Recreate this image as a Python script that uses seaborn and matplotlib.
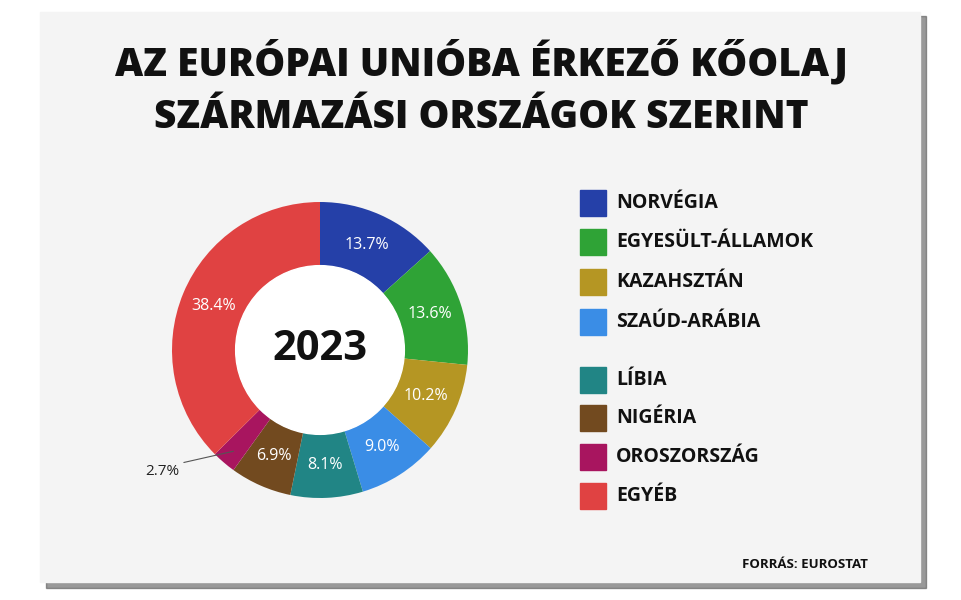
import matplotlib
matplotlib.use("Agg")
import matplotlib.pyplot as plt
import seaborn as sns
import numpy as np
from matplotlib.patches import Rectangle, Circle

sns.set_theme(style="white")
plt.rcParams['font.family'] = ['Open Sans', 'DejaVu Sans']

countries = ['NORVÉGIA', 'EGYESÜLT-ÁLLAMOK', 'KAZAHSZTÁN', 'SZAÚD-ARÁBIA',
             'LÍBIA', 'NIGÉRIA', 'OROSZORSZÁG', 'EGYÉB']
shares = [13.7, 13.6, 10.2, 9.0, 8.1, 6.9, 2.7, 38.4]
colors = ['#2540a8', '#2fa336', '#b59623', '#3a8de6',
          '#218585', '#724a1f', '#a8155f', '#e04242']

W, H = 962, 600
fig = plt.figure(figsize=(W / 100, H / 100), dpi=100)
fig.patch.set_facecolor('white')

# panel with shadow
fig.patches.append(Rectangle((46 / W, 1 - 588 / H), 880 / W, 572 / H,
                             transform=fig.transFigure, color='#555555', alpha=0.6, zorder=-2))
fig.patches.append(Rectangle((40 / W, 1 - 582 / H), 880 / W, 570 / H,
                             transform=fig.transFigure, color='#f4f4f4', zorder=-1))

fig.text(0.5, 1 - 62 / H, 'AZ EURÓPAI UNIÓBA ÉRKEZŐ KŐOLAJ', ha='center', va='center',
         fontsize=28, fontweight='heavy', color='#111111')
fig.text(0.5, 1 - 118 / H, 'SZÁRMAZÁSI ORSZÁGOK SZERINT', ha='center', va='center',
         fontsize=28, fontweight='heavy', color='#111111')

cx, cy, r = 320, 350, 185
ax = fig.add_axes([(cx - r) / W, 1 - (cy + r) / H, 2 * r / W, 2 * r / H], zorder=3)
ax.set_facecolor('none')
wedges, _ = ax.pie(shares, colors=colors, startangle=90, counterclock=False,
                   wedgeprops=dict(width=0.43, edgecolor='none'))
ax.add_patch(Circle((0, 0), 0.57, color='white', zorder=3))
ax.set_aspect('equal')

for w, v in zip(wedges, shares):
    ang = np.deg2rad((w.theta1 + w.theta2) / 2)
    if v < 5:
        x0, y0 = 0.9 * np.cos(ang), 0.9 * np.sin(ang)
        x1, y1 = -0.92, -0.76
        ax.plot([x0, x1], [y0, y1], color='#555555', lw=0.8, clip_on=False)
        ax.text(x1 - 0.03, y1 - 0.06, f'{v}%', ha='right', va='center', fontsize=11,
                color='#222222', clip_on=False)
    else:
        ax.text(0.78 * np.cos(ang), 0.78 * np.sin(ang), f'{v}%', ha='center', va='center',
                fontsize=11.5, color='white', zorder=4)
ax.text(0, 0, '2023', ha='center', va='center', fontsize=30, fontweight='bold',
        color='#111111', zorder=4)

ys = [203, 242, 282, 322, 380, 418, 457, 496]
for name, c, y in zip(countries, colors, ys):
    fig.patches.append(Rectangle((580 / W, 1 - (y + 13) / H), 26 / W, 26 / H,
                                 transform=fig.transFigure, color=c, zorder=2))
    fig.text(616 / W, 1 - y / H, name, ha='left', va='center', fontsize=14,
             fontweight='bold', color='#111111')

fig.text(868 / W, 1 - 564 / H, 'FORRÁS: EUROSTAT', ha='right', va='center', fontsize=9.5,
         fontweight='bold', color='#111111')

fig.savefig('out.png', dpi=100)
